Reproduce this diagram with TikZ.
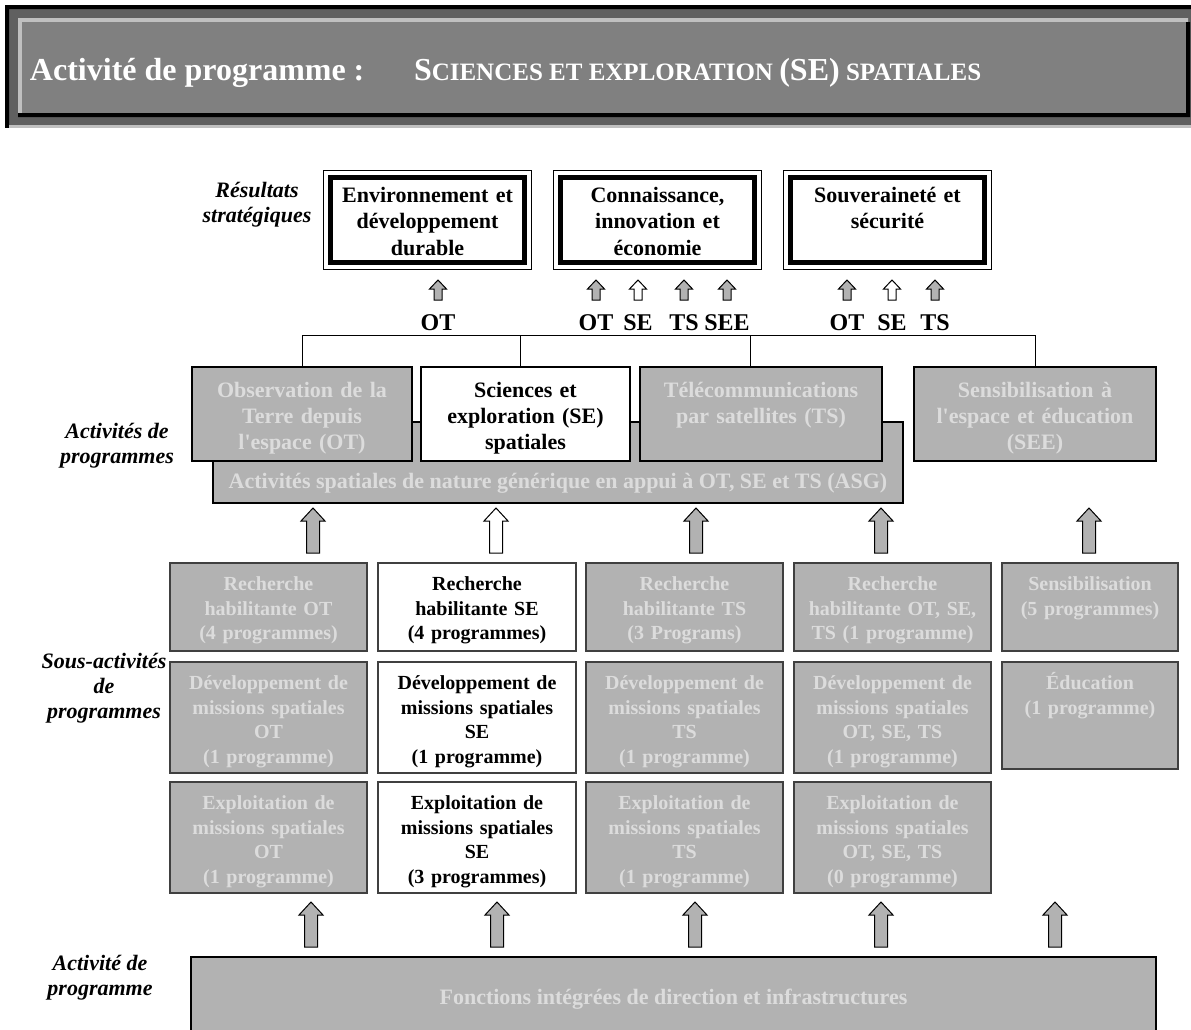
\documentclass[tikz,border=0pt]{standalone}
\usepackage{fontspec}
\setmainfont{Liberation Serif}
\definecolor{boxgray}{HTML}{B2B2B2}
\definecolor{txtgray}{HTML}{DCDCDC}
\definecolor{bandgray}{HTML}{808080}
\definecolor{banddark}{HTML}{606060}
\definecolor{bandlight}{HTML}{C0C0C0}
\tikzset{
  every node/.style={inner sep=0pt, outer sep=0pt},
  outbox/.style={draw, line width=2.5pt, fill=white, anchor=north west, align=center,
    font=\bfseries\fontsize{11}{13.25}\selectfont, text width=89pt,
    inner xsep=4pt, inner ysep=4.25pt, text height=8pt, text depth=26pt},
  actbox/.style={draw, line width=1pt, fill=boxgray, text=txtgray, anchor=north west, align=center,
    font=\bfseries\fontsize{11}{13}\selectfont, inner xsep=3pt, inner ysep=4pt,
    text height=11pt, text depth=28pt},
  actse/.style={actbox, fill=white, text=black},
  subbox/.style={draw=black!75, line width=0.75pt, fill=boxgray, text=txtgray, anchor=north west,
    align=center, font=\bfseries\fontsize{10}{12.25}\selectfont, inner xsep=3pt, inner ysep=3pt,
    text height=10.75pt, text width=92.5pt},
  subse/.style={subbox, fill=white, text=black},
  rowa/.style={text depth=27.25pt},
  rowb/.style={text depth=38.75pt},
  side/.style={font=\bfseries\itshape\fontsize{11}{12.5}\selectfont, align=center},
  tag/.style={font=\bfseries\fontsize{12}{14}\selectfont},
  pics/bigarr/.style={code={
    \draw[pic actions] (-6.5,0) -- (-6.5,-32) -- (-12,-32) -- (0,-45) -- (12,-32) -- (6.5,-32) -- (6.5,0) -- cycle;}},
  pics/smallarr/.style={code={
    \draw[pic actions] (-4,0) -- (-4,-11) -- (-8.5,-11) -- (0,-20) -- (8.5,-11) -- (4,-11) -- (4,0) -- cycle;}}
}
\begin{document}
\begin{tikzpicture}[x=0.5pt, y=-0.5pt, line join=miter]
  \useasboundingbox (0,0) rectangle (1191,1030);

  \fill[banddark] (5,5) rectangle (1191,125);
  \fill[black] (5,5) rectangle (1191,9) (5,5) rectangle (9,125);
  \fill[bandlight] (18,18) rectangle (1188,22) (18,18) rectangle (22,113);
  \fill[bandgray] (22,22) rectangle (1186,113);
  \fill[black] (18,113) rectangle (1190,117) (1186,22) rectangle (1190,117);
  \fill[bandlight] (9,125) rectangle (1191,128);
  \fill[black] (5,125) rectangle (9,128);
  \node[anchor=base west, text=white, font=\bfseries\fontsize{16}{18}\selectfont] (title) at (30,80) {Activité de programme :};
  \node[anchor=base west, text=white, font=\bfseries\fontsize{16}{18}\selectfont] (titlese) at (414,80)
    {S{\fontsize{12.5}{14}\selectfont CIENCES ET EXPLORATION }(SE){\fontsize{12.5}{14}\selectfont{} SPATIALES}};

  \node[side] (lres) at (257,205) {Résultats\\stratégiques};
  \node[side] (lact) at (117,446) {Activités de\\programmes};
  \node[side] (lsous) at (104,688) {Sous-activités\\de\\programmes};
  \node[side] (lprog) at (100,978) {Activité de\\programme};

  \node[outbox] (env) at (330.5,177.5) {Environnement et\\développement\\durable};
  \node[outbox] (con) at (560.5,177.5) {Connaissance,\\innovation et\\économie};
  \node[outbox] (sov) at (790.5,177.5) {Souveraineté et\\sécurité};
  \foreach \n in {env,con,sov}
    \draw[line width=0.5pt] ([shift={(-3.5pt,3.5pt)}]\n.north west) rectangle ([shift={(3.5pt,-3.5pt)}]\n.south east);

  \foreach \x/\t/\c [count=\i] in {438/OT/boxgray, 596/OT/boxgray, 638/SE/white, 684/TS/boxgray,
      727/SEE/boxgray, 847/OT/boxgray, 892/SE/white, 935/TS/boxgray} {
    \node[tag] (tag\i) at (\x,323) {\t};
    \pic[fill=\c, line width=0.5pt] at ([yshift=11.5pt]tag\i.center) {smallarr};
  }

  \node[actbox, text height=33pt, text depth=7.5pt, inner ysep=0pt, minimum width=345pt] (asg) at (213,422)
    {Activités spatiales de nature générique en appui à OT, SE et TS (ASG)};
  \node[actbox, text width=104pt] (ot) at (192,367) {Observation de la\\Terre depuis\\l\textquotesingle espace (OT)};
  \node[actse, text width=98.5pt] (se) at (421,367) {Sciences et\\exploration (SE)\\spatiales};
  \node[actbox, text width=115pt] (ts) at (640,367) {Télécommunications\\par satellites (TS)};
  \node[actbox, text width=115pt] (see) at (914,367) {Sensibilisation à\\l\textquotesingle espace et éducation\\(SEE)};

  \coordinate (bus) at (0,335);
  \draw[line width=0.5pt] (ot.north) |- (bus -| see.north) -- (see.north);
  \draw[line width=0.5pt] ([xshift=-2.75pt]se.north) -- ([xshift=-2.75pt]se.north |- bus);
  \draw[line width=0.5pt] ([xshift=-5.5pt]ts.north) -- ([xshift=-5.5pt]ts.north |- bus);

  \foreach \x/\c in {313/boxgray, 496/white, 696/boxgray, 881/boxgray, 1089/boxgray}
    \pic[fill=\c, line width=0.5pt] at (\x,553) {bigarr};

  \node[subbox, rowa] (rot) at (170,563) {Recherche\\habilitante OT\\(4 programmes)};
  \node[subse, rowa, text width=93pt] (rse) at (378,563) {Recherche\\habilitante SE\\(4 programmes)};
  \node[subbox, rowa] (rts) at (586,563) {Recherche\\habilitante TS\\(3 Programs)};
  \node[subbox, rowa] (rall) at (794,563) {Recherche\\habilitante OT, SE,\\TS (1 programme)};
  \node[subbox, rowa, text width=82pt] (sens) at (1002,563) {Sensibilisation\\(5 programmes)};

  \node[subbox, rowb] (dot) at (170,662) {Développement de\\missions spatiales\\OT\\(1 programme)};
  \node[subse, rowb, text width=93pt] (dse) at (378,662) {Développement de\\missions spatiales\\SE\\(1 programme)};
  \node[subbox, rowb] (dts) at (586,662) {Développement de\\missions spatiales\\TS\\(1 programme)};
  \node[subbox, rowb] (dall) at (794,662) {Développement de\\missions spatiales\\OT, SE, TS\\(1 programme)};
  \node[subbox, text depth=36.75pt, text width=82pt] (educ) at (1002,662) {Éducation\\(1 programme)};

  \node[subbox, rowb] (eot) at (170,782) {Exploitation de\\missions spatiales\\OT\\(1 programme)};
  \node[subse, rowb, text width=93pt] (ese) at (378,782) {Exploitation de\\missions spatiales\\SE\\(3 programmes)};
  \node[subbox, rowb] (ets) at (586,782) {Exploitation de\\missions spatiales\\TS\\(1 programme)};
  \node[subbox, rowb] (eall) at (794,782) {Exploitation de\\missions spatiales\\OT, SE, TS\\(0 programme)};

  \foreach \x in {311, 497, 695, 881, 1055}
    \pic[fill=boxgray, line width=0.5pt] at (\x,947) {bigarr};

  \node[actbox, text height=23.5pt, text depth=15.5pt, inner ysep=0pt, minimum width=482.5pt] (fid) at (191,957)
    {Fonctions intégrées de direction et infrastructures};
\end{tikzpicture}
\end{document}
